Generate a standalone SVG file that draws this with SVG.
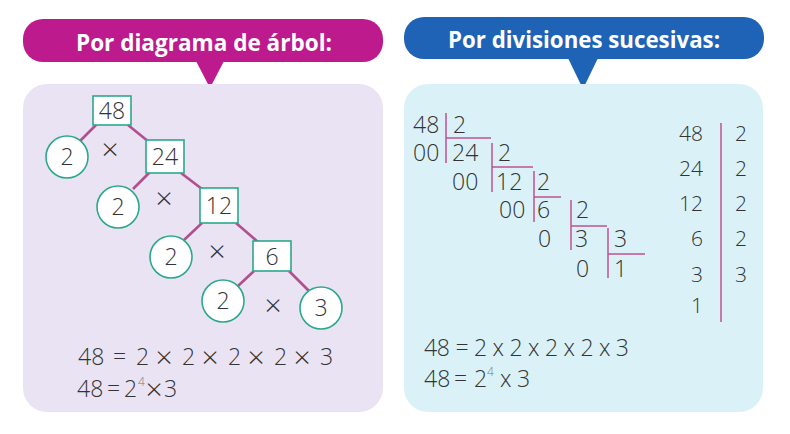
<svg xmlns="http://www.w3.org/2000/svg" width="790" height="434" viewBox="0 0 790 434">
<style>
.hdr{font-family:"Open Sans","Liberation Sans",sans-serif;font-weight:700;font-size:24px;fill:#fff;text-anchor:middle}
.num{font-family:"Open Sans","Liberation Sans",sans-serif;font-weight:300;font-size:23px;fill:#333}
.mid{text-anchor:middle}
.end{text-anchor:end}
.sq{fill:#fff;stroke:#2aa98a;stroke-width:1.6}
.ci{fill:#fff;stroke:#2aa98a;stroke-width:1.6}
.tl{stroke:#b0508f;stroke-width:2.6;fill:none}
.dl{stroke:#c0508f;stroke-width:1.5;fill:none}
.sup{font-family:"Open Sans","Liberation Sans",sans-serif;font-weight:300;font-size:12px;fill:#777}
.x{font-family:"Open Sans","Liberation Sans",sans-serif;font-weight:300;font-size:30px;fill:#333;text-anchor:middle}
.eq{font-family:"Open Sans","Liberation Sans",sans-serif;font-weight:300;font-size:23px;fill:#333}
.rn{font-family:"Open Sans","Liberation Sans",sans-serif;font-weight:300;font-size:21px;fill:#333}
</style>
<g id="left-header">
<rect x="23" y="19" width="360" height="43" rx="20" fill="#bd1a8d"/>
<polygon points="196,61 224,61 210,88" fill="#bd1a8d"/>
<text class="hdr" x="204" y="51" textLength="256" lengthAdjust="spacingAndGlyphs">Por diagrama de árbol:</text>
</g>
<g id="right-header">
<rect x="404" y="17" width="360" height="42" rx="20" fill="#1e63b6"/>
<polygon points="568,58 598,58 583,89" fill="#1e63b6"/>
<text class="hdr" x="584" y="48" textLength="272" lengthAdjust="spacingAndGlyphs">Por divisiones sucesivas:</text>
</g>
<rect id="left-panel" x="23" y="84" width="360" height="328" rx="24" fill="#eae3f3"/>
<rect id="right-panel" x="404" y="84" width="359" height="328" rx="24" fill="#daf2f7"/>
<g id="connectors">
<line class="tl" x1="96" y1="125" x2="80" y2="141"/>
<line class="tl" x1="128" y1="125" x2="149" y2="142"/>
<line class="tl" x1="149" y1="173" x2="133" y2="189"/>
<line class="tl" x1="181" y1="173" x2="202" y2="189"/>
<line class="tl" x1="202" y1="223" x2="184" y2="240"/>
<line class="tl" x1="236" y1="223" x2="258" y2="242"/>
<line class="tl" x1="254" y1="271" x2="238" y2="286"/>
<line class="tl" x1="289" y1="271" x2="309" y2="291"/>
</g>
<g id="n48"><rect class="sq" x="93" y="96" width="38" height="29"/><text class="num mid" x="112" y="119">48</text></g>
<g id="c1"><circle class="ci" cx="67" cy="157" r="21"/><text class="num mid" x="67" y="165">2</text></g>
<text class="x" x="110" y="160">×</text>
<g id="n24"><rect class="sq" x="146" y="140" width="38" height="33"/><text class="num mid" x="165" y="165">24</text></g>
<g id="c2"><circle class="ci" cx="118" cy="207" r="21"/><text class="num mid" x="118" y="215">2</text></g>
<text class="x" x="164" y="209">×</text>
<g id="n12"><rect class="sq" x="200" y="188" width="38" height="35"/><text class="num mid" x="219" y="214">12</text></g>
<g id="c3"><circle class="ci" cx="171" cy="257" r="21"/><text class="num mid" x="171" y="265">2</text></g>
<text class="x" x="217" y="262">×</text>
<g id="n6"><rect class="sq" x="253" y="241" width="38" height="30"/><text class="num mid" x="272" y="265">6</text></g>
<g id="c4"><circle class="ci" cx="223" cy="301" r="21"/><text class="num mid" x="223" y="309">2</text></g>
<text class="x" x="273" y="316">×</text>
<g id="c5"><circle class="ci" cx="321" cy="308" r="21"/><text class="num mid" x="321" y="316">3</text></g>
<g id="left-equations">
<text class="eq" y="365"><tspan x="78">48</tspan><tspan x="113">=</tspan><tspan x="136">2</tspan><tspan x="182">2</tspan><tspan x="228">2</tspan><tspan x="274">2</tspan><tspan x="320">3</tspan></text>
<text class="x" x="164" y="368">×</text><text class="x" x="210" y="368">×</text><text class="x" x="256" y="368">×</text><text class="x" x="302" y="368">×</text>
<text class="eq" y="397"><tspan x="77">48</tspan><tspan x="107">=</tspan><tspan x="124">2</tspan><tspan class="sup" x="138" y="386">4</tspan><tspan x="164" y="397">3</tspan></text>
<text class="x" x="154" y="400">×</text>
</g>
<g id="division-ladder">
<g class="dl">
<polyline points="446,113 446,163"/><line x1="446" y1="138" x2="491" y2="138"/>
<polyline points="492,143 492,192"/><line x1="492" y1="167" x2="533" y2="167"/>
<polyline points="534,171 534,222"/><line x1="534" y1="197" x2="561" y2="197"/>
<polyline points="571,200 571,250"/><line x1="571" y1="226" x2="607" y2="226"/>
<polyline points="608,228 608,278"/><line x1="608" y1="254" x2="645" y2="254"/>
</g>
<text class="num" x="413" y="133">48</text><text class="num" x="453" y="133">2</text>
<text class="num" x="413" y="161">00</text><text class="num" x="452" y="161">24</text><text class="num" x="498" y="161">2</text>
<text class="num" x="452" y="190">00</text><text class="num" x="496" y="190">12</text><text class="num" x="537" y="190">2</text>
<text class="num" x="499" y="218">00</text><text class="num" x="537" y="218">6</text><text class="num" x="576" y="218">2</text>
<text class="num" x="538" y="247">0</text><text class="num" x="575" y="247">3</text><text class="num" x="614" y="247">3</text>
<text class="num" x="576" y="277">0</text><text class="num" x="614" y="277">1</text>
</g>
<g id="division-table">
<line class="dl" x1="721" y1="123" x2="721" y2="322"/>
<text class="rn end" x="703" y="141">48</text><text class="rn" x="735" y="141">2</text>
<text class="rn end" x="703" y="176">24</text><text class="rn" x="735" y="176">2</text>
<text class="rn end" x="703" y="211">12</text><text class="rn" x="735" y="211">2</text>
<text class="rn end" x="703" y="246">6</text><text class="rn" x="735" y="246">2</text>
<text class="rn end" x="703" y="282">3</text><text class="rn" x="735" y="282">3</text>
<text class="rn end" x="703" y="313">1</text>
</g>
<g id="right-equations">
<text class="eq" x="424" y="356" textLength="205" lengthAdjust="spacing">48 = 2 x 2 x 2 x 2 x 3</text>
<text class="eq" y="387"><tspan x="424">48</tspan><tspan x="454">=</tspan><tspan x="474">2</tspan><tspan class="sup" x="487" y="376">4</tspan><tspan x="500" y="387">x</tspan><tspan x="517">3</tspan></text>
</g>
</svg>
